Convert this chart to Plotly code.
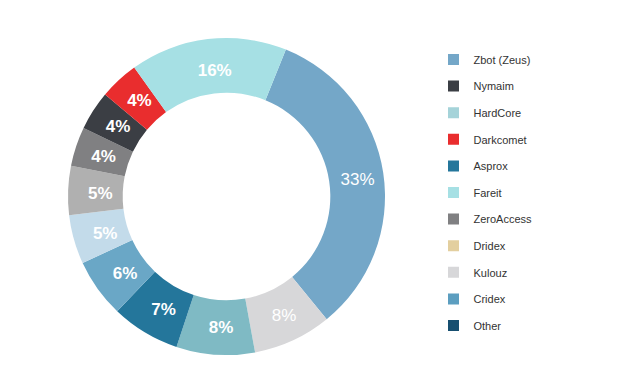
import plotly.graph_objects as go

# Slices (clockwise from the top-right)
slice_labels = ["Zbot (Zeus)", "Kulouz", "HardCore", "Asprox", "Cridex", "Other",
                "Dridex", "ZeroAccess", "Nymaim", "Darkcomet", "Fareit"]
slice_values = [33, 8, 8, 7, 6, 5, 5, 4, 4, 4, 16]
slice_colors = ["#74a7c8", "#d7d7d9", "#7fbac4", "#24769b", "#6aa7c6", "#c3dbea",
                "#b0b0b0", "#808082", "#3b3e44", "#e92d2e", "#a6e0e4"]
slice_bold = [False, False, True, True, True, True, True, True, True, True, True]

# Legend entries
legend_labels = ["Zbot (Zeus)", "Nymaim", "HardCore", "Darkcomet", "Asprox", "Fareit",
                 "ZeroAccess", "Dridex", "Kulouz", "Cridex", "Other"]
legend_colors = ["#74a7c8", "#3b3e44", "#a5d3d9", "#e92d2e", "#24769b", "#a6e0e4",
                 "#808082", "#e3cf9f", "#d7d7d9", "#5c9ec0", "#174f70"]

texts = [(f"<b>{v}%</b>" if b else f"{v}%") for v, b in zip(slice_values, slice_bold)]

W, H = 619, 371
OFF = 8  # page body margin
cx, cy, r = 226.5 - OFF, 196.5 - OFF, 158.5
r_txt = 150  # radius of the transparent label ring
tx, ty = cx + 3.5, cy + 2


def dom(x0, y0, rad):
    return dict(x=[(x0 - rad) / W, (x0 + rad) / W],
                y=[(H - y0 - rad) / H, (H - y0 + rad) / H])


fig = go.Figure()
# coloured ring
fig.add_trace(go.Pie(
    labels=slice_labels,
    values=slice_values,
    textinfo="none",
    sort=False,
    direction="clockwise",
    rotation=22,
    hole=0.655,
    marker=dict(colors=slice_colors, line=dict(width=0)),
    showlegend=False,
    hoverinfo="skip",
    domain=dom(cx, cy, r),
))
# transparent ring carrying the percentage labels
fig.add_trace(go.Pie(
    labels=slice_labels,
    values=slice_values,
    text=texts,
    textinfo="text",
    sort=False,
    direction="clockwise",
    rotation=22,
    hole=0.72,
    marker=dict(colors=["rgba(0,0,0,0)"] * len(slice_values), line=dict(width=0)),
    textposition="inside",
    insidetextorientation="horizontal",
    textfont=dict(family="Liberation Sans, Arial, sans-serif", size=17, color="white"),
    showlegend=False,
    hoverinfo="skip",
    domain=dom(tx, ty, r_txt),
))

for i, (lab, col) in enumerate(zip(legend_labels, legend_colors)):
    fig.add_trace(go.Scatter(
        x=[None], y=[None], mode="markers", name=lab,
        legendgroup=f"g{i}",
        marker=dict(symbol="square", size=11, color=col, line=dict(width=0)),
        hoverinfo="skip",
    ))

fig.update_layout(
    width=W, height=H,
    margin=dict(l=0, r=0, t=0, b=0),
    paper_bgcolor="white",
    plot_bgcolor="white",
    xaxis=dict(visible=False),
    yaxis=dict(visible=False),
    showlegend=True,
    legend=dict(
        x=425.5 / W, xanchor="left",
        y=1 - 37 / H, yanchor="top",
        font=dict(family="Liberation Sans, Arial, sans-serif", size=11, color="#333333"),
        tracegroupgap=7.6,
        bgcolor="rgba(0,0,0,0)",
    ),
)

fig.write_html("out.html")
